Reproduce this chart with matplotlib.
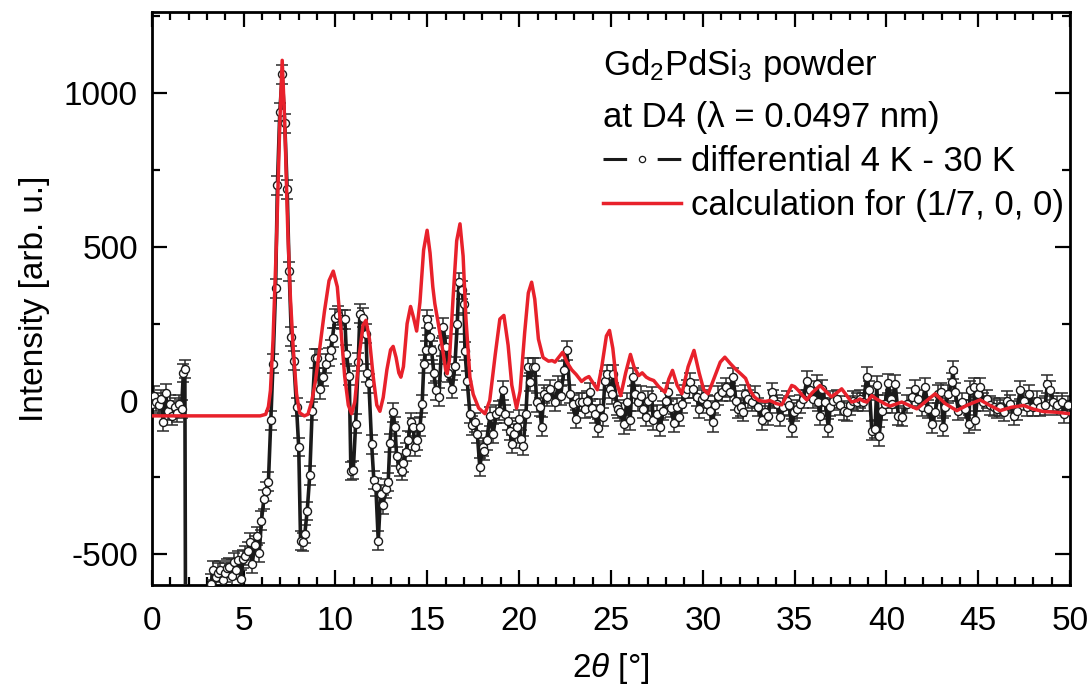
import numpy as np
import matplotlib
matplotlib.use("Agg")
import matplotlib.pyplot as plt
from matplotlib.lines import Line2D
from matplotlib.ticker import MultipleLocator

plt.rcParams['font.family'] = ['Liberation Sans', 'DejaVu Sans']
plt.rcParams['mathtext.fontset'] = 'custom'
plt.rcParams['mathtext.rm'] = 'Liberation Sans'
plt.rcParams['mathtext.it'] = 'Liberation Sans:italic'
plt.rcParams['axes.unicode_minus'] = False
plt.rcParams['lines.scale_dashes'] = False

# ---------------- measured differential data (4 K - 30 K) ----------------
theta_a = [0.0, 0.125, 0.25, 0.375, 0.5, 0.625, 0.75, 0.875, 1.0, 1.125, 1.25, 1.375,
           1.5, 1.62, 1.72, 1.8, 1.94, 3.1]
counts_a = [-10, 16, -5, -16, 5, -70, 24, -33, -11, -49, -22, -40,
            -11, -27, 90, 103, -3000, -3000]

theta_b = [3.22, 3.35, 3.47, 3.6, 3.72, 3.85, 3.97, 4.1, 4.22, 4.35, 4.47, 4.6, 4.72,
           4.85, 4.97, 5.1, 5.22, 5.35, 5.47, 5.6, 5.72, 5.85, 5.97, 6.1, 6.22, 6.35,
           6.48, 6.6, 6.74, 6.84, 6.97, 7.1, 7.24, 7.37, 7.48, 7.6, 7.73, 7.88, 8.0,
           8.1, 8.24, 8.33, 8.46, 8.6, 8.73, 8.88, 9.0, 9.15, 9.33, 9.51, 9.66, 9.73,
           9.84, 9.97, 10.15, 10.33, 10.51, 10.6, 10.75, 10.84, 10.97, 11.1, 11.24,
           11.33, 11.48, 11.66, 11.73, 11.82, 11.97, 12.09, 12.2, 12.33, 12.46, 12.6,
           12.73, 12.87, 12.96, 13.11, 13.24, 13.33, 13.51, 13.6, 13.69, 13.83, 13.96,
           14.09, 14.24, 14.32, 14.45, 14.6, 14.72, 14.81, 14.91, 14.96, 15.05, 15.14,
           15.23, 15.36, 15.47, 15.63, 15.78, 15.87, 16.01, 16.14, 16.36, 16.5, 16.63,
           16.72, 16.87, 17.0, 17.05]
counts_b = [-596, -553, -575, -560, -553, -585, -560, -545, -543, -570, -527, -550, -520,
            -580, -515, -505, -490, -462, -531, -470, -440, -495, -391, -322, -296, -264,
            -65, 120, 365, 700, 939, 1061, 902, 687, 420, 208, 130, -22, -152,
            -456, -461, -434, -360, -244, -35, 137, 137, 36, 76, 120, 141, 166,
            205, 267, 277, 264, 264, 150, 81, -230, -226, -75, 125,
            283, 270, 218, 89, 56, -143, -258, -282, -456, -304, -339,
            -287, -266, -139, -39, -85, -182, -217, -230, -204, -168, -130,
            -71, -87, -152, -130, -85, -11, 119, 163, 266, 244, 206,
            163, 88, 33, 11, 174, 239, 174, 89, 38, 112, 248,
            385, 360, 315, 161]

theta_c = [17.17, 17.32, 17.45, 17.59, 17.72, 17.86, 18.01, 18.1, 18.23, 18.41, 18.59,
           18.74, 18.92, 19.1, 19.23, 19.37, 19.5, 19.59, 19.72, 19.86, 20.0, 20.08,
           20.22, 20.37, 20.5, 20.59, 20.73, 20.86, 20.95, 21.13, 21.22, 21.35, 21.5,
           21.68, 21.95, 22.13, 22.26, 22.44, 22.59, 22.77, 22.91, 23.09, 23.27]
counts_c = [65, -43, -81, -71, -108, -217, -152, -163, -130, -52, -108,
            -43, -33, 33, -43, -67, -98, -141, -108, -87, -60, -125,
            -147, -43, 109, 60, 109, 109, -6, -22, -85, 22, 11,
            38, -5, 49, 16, 98, 163, 22, -11, -60, -5]

theta_d = [23.4, 23.58, 23.67, 23.86, 23.95, 24.13, 24.31, 24.4, 24.55, 24.67, 24.8,
           24.95, 25.04, 25.13, 25.31, 25.4, 25.49, 25.71, 25.86, 26.04, 26.18, 26.31,
           26.49, 26.64, 26.76, 26.91, 27.03, 27.22, 27.3, 27.49, 27.67, 27.85, 28.0,
           28.12, 28.25, 28.43, 28.58, 28.72, 28.85, 29.03, 29.16, 29.3, 29.48, 29.67,
           29.81, 29.94, 30.07, 30.21, 30.39, 30.54, 30.66, 30.85, 31.03, 31.26, 31.48,
           31.63, 31.81, 31.93]
counts_d = [-5, -27, 0, 27, -24, -43, -89, -24, -54, 65, 87,
            38, 20, 87, -16, -27, -38, -78, -5, -65, 76, 22,
            -5, 16, -27, -54, 0, 13, -65, -43, -87, -33, 0,
            27, -24, -74, -22, -54, -11, 22, 38, 60, 38, 11,
            -27, 5, 16, -11, -33, -71, -16, 16, 27, 43, 27,
            76, 0, -27]

theta_e = [32.06, 32.2, 32.3, 32.48, 32.66, 32.84, 33.02, 33.2, 33.38, 33.57, 33.75,
           33.84, 34.02, 34.2, 34.39, 34.57, 34.71, 34.84, 34.97, 35.11, 35.29, 35.47,
           35.66, 35.84, 36.02, 36.2, 36.29, 36.38, 36.47, 36.66, 36.84, 36.93, 37.11,
           37.29, 37.47, 37.66, 37.84, 38.02, 38.2, 38.38, 38.56, 38.74, 38.93, 39.07,
           39.2, 39.38, 39.47, 39.6, 39.74, 39.92, 40.1, 40.23]
counts_e = [-22, -38, 22, 5, -5, 16, -22, -65, -38, -49, 27,
            5, -11, -54, -22, 0, -16, -89, -38, -27, -11, 5,
            65, 33, 5, 54, -5, -49, 38, -5, -89, -22, 0,
            5, -16, -33, -38, -16, 0, -5, 5, -5, 78, 33,
            -98, -92, 49, -117, -33, -11, 56, 5]

theta_f = [40.29, 40.47, 40.65, 40.83, 41.1, 41.38, 41.56, 41.74, 41.92, 42.1, 42.28,
           42.47, 42.65, 42.83, 42.96, 43.1, 43.19, 43.37, 43.56, 43.61, 43.74, 43.92,
           44.1, 44.28, 44.47, 44.56, 44.74, 44.83, 44.96, 45.1, 45.28, 45.47, 45.64,
           45.83, 46.0, 46.19, 46.38, 46.56, 46.74, 46.92, 47.1, 47.28, 47.46, 47.64,
           47.78, 47.97, 48.19, 48.37, 48.64, 48.76, 48.91, 49.09, 49.27, 49.54, 49.67,
           49.9]
counts_f = [-11, 54, -49, -54, -11, 11, 38, 5, -22, 43, -27,
            -76, -38, 22, 27, -87, -22, 22, 60, 100, 27, -33,
            -5, -27, -76, 33, 43, -65, 22, 43, -5, 5, -16,
            -22, -27, -22, -38, 0, -11, -49, -33, 35, 0, -22,
            22, -22, 0, -22, -16, 54, 33, -5, -16, -5, -43,
            -16]

error_bar = 30  # half-length of the error bars

# ---------------- calculation for (1/7, 0, 0) ----------------
theta_calc = [0, 5.9, 6.2, 6.35, 6.46, 6.6, 6.79, 6.97, 7.1, 7.24, 7.4, 7.55, 7.7, 7.88,
              8.05, 8.3, 8.5, 8.7, 8.9, 9.1, 9.4, 9.65, 9.88, 10.1, 10.3, 10.5, 10.7,
              10.88, 11.05, 11.3, 11.5, 11.66, 11.85, 12.05, 12.25, 12.42, 12.6, 12.8,
              13.0, 13.14, 13.3, 13.45, 13.56, 13.7, 13.9, 14.09, 14.25, 14.42, 14.6,
              14.8, 14.99, 15.15, 15.3, 15.41, 15.6, 15.87, 16.0, 16.08, 16.2, 16.4,
              16.6, 16.78, 16.95, 17.1, 17.32, 17.5, 17.8, 18.14, 18.4, 18.7, 18.95,
              19.17, 19.4, 19.6, 19.86, 20.05, 20.3, 20.5, 20.68, 20.85, 21.05, 21.3,
              21.6, 21.8, 21.95, 22.15, 22.37, 22.6, 22.86, 23.1, 23.4, 23.6, 23.8,
              24.05, 24.26, 24.5, 24.75, 24.92, 25.1, 25.3, 25.53, 25.8, 26.06, 26.25,
              26.51, 26.7, 26.92, 27.1, 27.33, 27.6, 27.94, 28.15, 28.35, 28.6, 28.86,
              29.2, 29.52, 29.8, 30.05, 30.29, 30.6, 30.95, 31.2, 31.5, 31.82, 32.1,
              32.33, 32.6, 32.8, 33.05, 33.4, 33.66, 34.0, 34.3, 34.6, 34.84, 35.0,
              35.2, 35.45, 35.66, 35.95, 36.38, 36.7, 37.0, 37.3, 37.56, 37.85, 38.1,
              38.4, 38.56, 38.75, 38.93, 39.2, 39.45, 39.74, 39.95, 40.2, 40.5, 40.83,
              41.2, 41.65, 42.1, 42.65, 43.2, 43.83, 44.4, 45.1, 45.6, 46.19, 46.8,
              47.46, 48.0, 48.55, 49.2, 50]
counts_calc = [-50, -50, -45, -20, 33, 195, 521, 902, 1107, 902, 560, 330, 170, 22,
               -40, -50, -45, -5, 60, 150, 290, 390, 421, 370, 230, 80, -15,
               -43, -5, 150, 245, 261, 200, 80, -15, -35, 10, 100,
               165, 176, 140, 90, 76, 110, 250, 306, 270, 226, 320,
               490, 554, 480, 370, 315, 250, 152, 100, 87, 130, 330,
               520, 575, 470, 270, 76, 20, -25, -43, 0, 150, 265,
               277, 180, 50, -25, 30, 220, 350, 385, 330, 200, 140,
               128, 130, 125, 140, 157, 125, 100, 85, 62, 72, 78,
               55, 35, 110, 210, 228, 170, 60, 16, 90, 150, 110,
               81, 90, 76, 70, 65, 45, 27, 70, 98, 50, 22,
               110, 163, 90, 35, 22, 70, 125, 141, 120, 100, 85,
               72, 30, 12, 0, -3, 0, -10, -14, 20, 49, 45,
               33, 15, 2, 25, 49, 30, 12, 25, 38, 15, -5,
               0, 5, -2, -5, 16, 5, -5, -12, -18, -12, -5,
               -15, -27, -5, 22, -10, -33, -15, 2, -15, -33, -22,
               -16, -28, -36, -38, -43]

# ---------------- text ----------------
label_title1 = r'Gd$_2$PdSi$_3$ powder'
label_title2 = 'at D4 (λ = 0.0497 nm)'
label_data = 'differential 4 K - 30 K'
label_calc = 'calculation for (1/7, 0, 0)'
xlabel = r'2$\mathit{\theta}$ [°]'
ylabel = 'Intensity [arb. u.]'
xticks = [0, 5, 10, 15, 20, 25, 30, 35, 40, 45, 50]
yticks = [-500, 0, 500, 1000]

theta = np.array(theta_a + theta_b + theta_c + theta_d + theta_e + theta_f, dtype=float)
counts = np.array(counts_a + counts_b + counts_c + counts_d + counts_e + counts_f, dtype=float)

BLACK = '#1a1a1a'
RED = '#e8212b'

fig = plt.figure(figsize=(10.92, 6.93), dpi=100)
ax = fig.add_axes([0.139, 0.156, 0.841, 0.827])

ax.errorbar(theta, counts, yerr=error_bar, fmt='none', ecolor='#2b2b2b',
            elinewidth=1.1, capsize=4.0, capthick=1.1, zorder=2)
ax.plot(theta, counts, color=BLACK, lw=2.6, zorder=3)
ax.plot(theta, counts, 'o', ls='none', mfc='white', mec=BLACK, ms=5.8, mew=1.0, zorder=4)
ax.plot(theta_calc, counts_calc, color=RED, lw=2.5, zorder=5)

ax.set_xlim(0, 50)
ax.set_ylim(-600, 1265)
ax.set_xticks(xticks)
ax.set_yticks(yticks)
ax.xaxis.set_minor_locator(MultipleLocator(1))
ax.yaxis.set_minor_locator(MultipleLocator(250))
ax.tick_params(which='both', direction='in', top=True, right=True, labelsize=24, width=1.6)
ax.tick_params(which='major', length=11)
ax.tick_params(which='minor', length=5.5)
ax.tick_params(axis='x', pad=15)
ax.tick_params(axis='y', pad=10)
for s in ax.spines.values():
    s.set_linewidth(2.0)

ax.set_xlabel(xlabel, fontsize=24, labelpad=10)
ax.set_ylabel(ylabel, fontsize=24, labelpad=10)

ax.text(0.491, 0.907, label_title1, transform=ax.transAxes, fontsize=25, va='center', ha='left')
ax.text(0.491, 0.815, label_title2, transform=ax.transAxes, fontsize=25, va='center', ha='left')

h_data_line = Line2D([], [], color=BLACK, lw=2.2, dashes=[17, 22, 17])
h_data_mark = Line2D([], [], ls='none', marker='o', mfc='white', mec=BLACK, ms=4.5, mew=0.9)
h_calc = Line2D([], [], color=RED, lw=2.5)
ax.legend([(h_data_line, h_data_mark), h_calc], [label_data, label_calc],
          loc='upper left', bbox_to_anchor=(0.491, 0.768),
          frameon=False, fontsize=25, handlelength=2.25, handletextpad=0.3,
          labelspacing=0.33, borderpad=0, borderaxespad=0, numpoints=1)

fig.savefig('out.png', dpi=100)
